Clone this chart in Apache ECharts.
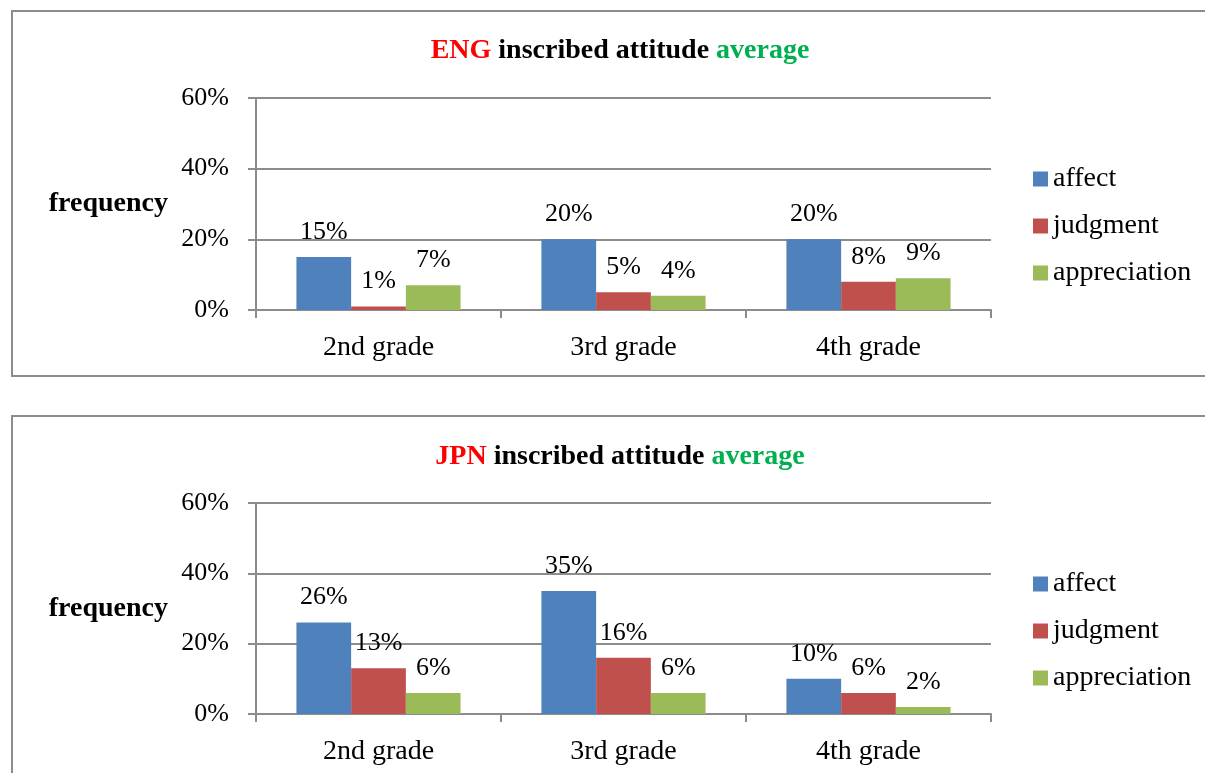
<!DOCTYPE html>
<html>
<head>
<meta charset="utf-8">
<script src="https://cdn.jsdelivr.net/npm/echarts@6/dist/echarts.min.js"></script>
<style>
  html, body { margin: 0; padding: 0; background: #fff; overflow: hidden; }
  #main { position: absolute; left: 0; top: 0; width: 1205px; height: 773px; }
  .box { position: absolute; border: 2px solid #8c8c8c; box-sizing: border-box; pointer-events: none; }
</style>
</head>
<body>
<div id="main"></div>
<div class="box" style="left:11px; top:10px; width:1200px; height:367px;"></div>
<div class="box" style="left:11px; top:415px; width:1200px; height:400px;"></div>
<script>
// grades on x axis
var grades = ['2nd grade', '3rd grade', '4th grade'];
var seriesNames = ['affect', 'judgment', 'appreciation'];
var yTicks = [0, 20, 40, 60];

// ENG values (%)
var engAffect = [15, 20, 20];
var engJudgment = [1, 5, 8];
var engAppreciation = [7, 4, 9];

// JPN values (%)
var jpnAffect = [26, 35, 10];
var jpnJudgment = [13, 16, 6];
var jpnAppreciation = [6, 6, 2];

var colors = ['#4F81BD', '#C0504D', '#9BBB59'];
var FONT = '"Liberation Serif", "Times New Roman", serif';
var GRID_COLOR = '#8c8c8c';

var chart = echarts.init(document.getElementById('main'), null, { renderer: 'canvas' });

function makeTitle(code, top) {
    return {
        text: '{r|' + code + '} {k|inscribed attitude} {g|average}',
        left: 615,
        top: top,
        textAlign: 'center',
        textStyle: {
            fontFamily: FONT,
            fontSize: 28,
            fontWeight: 'bold',
            rich: {
                r: { color: '#FF0000', fontFamily: FONT, fontSize: 28, fontWeight: 'bold' },
                k: { color: '#000', fontFamily: FONT, fontSize: 28, fontWeight: 'bold' },
                g: { color: '#00B050', fontFamily: FONT, fontSize: 28, fontWeight: 'bold' }
            }
        }
    };
}

function makeXAxis(gridIndex) {
    return {
        type: 'category',
        gridIndex: gridIndex,
        data: grades,
        axisLine: { lineStyle: { color: GRID_COLOR, width: 2 } },
        axisTick: { show: true, length: 8, lineStyle: { color: GRID_COLOR, width: 2 } },
        axisLabel: { color: '#000', fontFamily: FONT, fontSize: 28, margin: 24 }
    };
}

function makeYAxis(gridIndex) {
    return {
        type: 'value',
        gridIndex: gridIndex,
        min: yTicks[0],
        max: yTicks[yTicks.length - 1],
        interval: 20,
        name: 'frequency',
        nameLocation: 'middle',
        nameRotate: 0,
        nameGap: 88,
        nameTextStyle: { color: '#000', fontFamily: FONT, fontSize: 28, fontWeight: 'bold', padding: [6, 0, 0, 0] },
        axisLine: { show: true, lineStyle: { color: GRID_COLOR, width: 2 } },
        axisTick: { show: true, length: 8, lineStyle: { color: GRID_COLOR, width: 2 } },
        splitLine: { show: true, lineStyle: { color: GRID_COLOR, width: 2 } },
        axisLabel: {
            color: '#000', fontFamily: FONT, fontSize: 26, margin: 27, padding: [6, 0, 0, 0],
            formatter: function (v) { return v + '%'; }
        }
    };
}

function makeSeries(values, idx, axisIndex) {
    return {
        name: seriesNames[idx],
        type: 'bar',
        xAxisIndex: axisIndex,
        yAxisIndex: axisIndex,
        data: values,
        barGap: '0%',
        barCategoryGap: '33%',
        itemStyle: { color: colors[idx] },
        label: {
            show: true,
            position: 'top',
            distance: 12,
            color: '#000',
            fontFamily: FONT,
            fontSize: 26,
            formatter: function (p) { return p.value + '%'; }
        }
    };
}

function makeLegend(top) {
    return {
        orient: 'vertical',
        left: 1033,
        top: top,
        padding: 0,
        data: seriesNames,
        icon: 'rect',
        itemWidth: 15,
        itemHeight: 15,
        itemGap: 19,
        textStyle: { color: '#000', fontFamily: FONT, fontSize: 28, lineHeight: 28 },
        selectedMode: false
    };
}

var option = {
    animation: false,
    title: [makeTitle('ENG', 32), makeTitle('JPN', 438)],
    legend: [makeLegend(165), makeLegend(570)],
    grid: [
        { left: 256, top: 98, width: 735, height: 212 },
        { left: 256, top: 503, width: 735, height: 211 }
    ],
    xAxis: [makeXAxis(0), makeXAxis(1)],
    yAxis: [makeYAxis(0), makeYAxis(1)],
    series: [
        makeSeries(engAffect, 0, 0),
        makeSeries(engJudgment, 1, 0),
        makeSeries(engAppreciation, 2, 0),
        makeSeries(jpnAffect, 0, 1),
        makeSeries(jpnJudgment, 1, 1),
        makeSeries(jpnAppreciation, 2, 1)
    ]
};

chart.setOption(option);
</script>
</body>
</html>
